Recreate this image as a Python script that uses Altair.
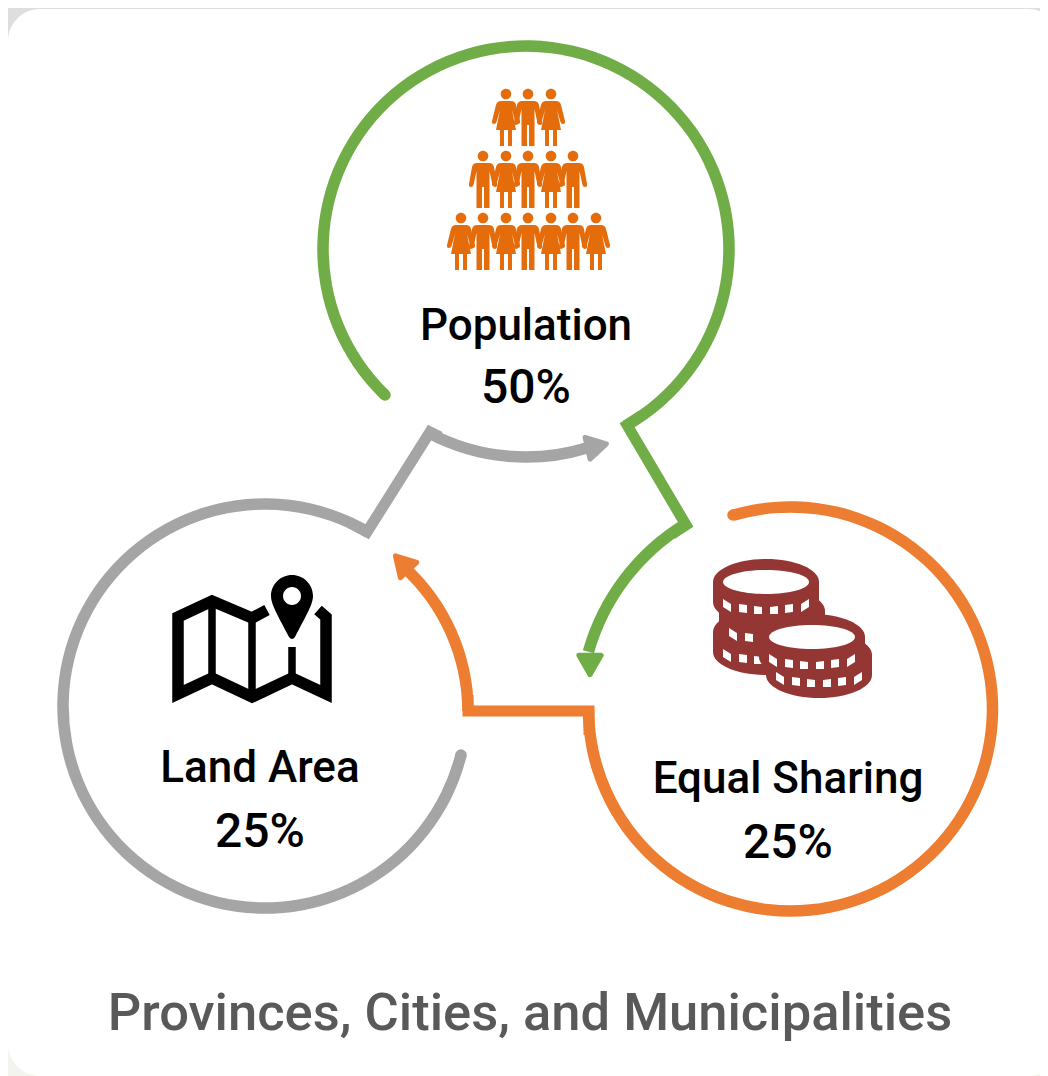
import altair as alt
import pandas as pd

GREEN, ORANGE, GRAY = "#70AD47", "#ED7D31", "#A5A5A5"
PEOPLE = "#E46C0A"
COIN = "#943634"
TITLE = "#595959"

# Arcs: the three large rings, then the three curved arrow shafts.
# Centre, radius, start/end bearing (radians, clockwise from top)
arc_x = [526, 790.5, 265, 800, 526, 272]
arc_y = [249, 709, 706, 712, 249, 712]
arc_r = [203, 202, 202, 220, 208, 196]
arc_start = [-2.374, -0.288, 1.815, 4.99, 2.845, 0.74]
arc_end = [2.627, 4.71, 6.821, 5.735, 3.627, 1.565]
arc_color = [GREEN, ORANGE, GRAY, GREEN, GRAY, ORANGE]

# Rounded free ends of the rings
cap_x = [385, 733, 461]
cap_y = [395, 515, 755]
cap_color = [GREEN, ORANGE, GRAY]

# Straight connectors with their sharp corners
green_x = [642, 627, 686, 672]
green_y = [415, 425, 525, 534]
gray_x = [350, 367, 430, 440]
gray_y = [523, 532, 432, 437]
orange_x = [589, 589, 468, 468]
orange_y = [735, 711, 711, 695]

# Arrow heads
arrow_x = [590, 597, 402]
arrow_y = [665, 446, 563]
arrow_angle = [180, 77, 317]
arrow_color = [GREEN, GRAY, ORANGE]

# People pictogram: position of each head and kind
person_x = [506, 528, 551,
            483, 506, 528, 551, 573,
            461, 483, 506, 528, 551, 573, 596]
person_y = [94, 94, 94,
            156, 156, 156, 156, 156,
            218, 218, 218, 218, 218, 218, 218]
person_kind = ["w", "m", "w",
               "m", "w", "m", "w", "m",
               "w", "m", "w", "m", "w", "m", "w"]

HEAD = "M5.3,0 A5.3,5.3 0 1 1 -5.3,0 A5.3,5.3 0 1 1 5.3,0 Z "
MAN = HEAD + ("M-6,7 L6,7 Q10,7 11,11 L14,28 Q14.5,31 12,31 Q10,31 9.5,29 L6.5,15 L6.5,52 L1,52 L1,31 "
              "L-1,31 L-1,52 L-6.5,52 L-6.5,15 L-9.5,29 Q-10,31 -12,31 Q-14.5,31 -14,28 L-11,11 Q-10,7 -6,7 Z")
WOMAN = HEAD + ("M-5,7 L5,7 Q9,7 10,11 L14,27 Q14.5,30 12,30 Q10,30 9.5,28 L6,16 L10,36 L6,36 L6,52 L2,52 L2,36 "
                "L-2,36 L-2,52 L-6,52 L-6,36 L-10,36 L-6,16 L-9.5,28 Q-10,30 -12,30 Q-14.5,30 -14,27 L-10,11 Q-9,7 -5,7 Z")

# Coins
COIN_BODY = "M-53,0 A53,23 0 0 1 53,0 L53,20 A53,23 0 0 1 -53,20 Z"
COIN_FACE = "M-43,0 A43,12 0 1 1 43,0 A43,12 0 1 1 -43,0 Z"
COIN_WIN = ("M-43,17 L-35,22 L-35,30 L-43,25 Z M-27,22 L-19,23 L-19,31 L-27,30 Z M-12,24 L-4,25 L-4,32 L-12,32 Z "
            "M4,25 L12,24 L12,32 L4,32 Z M19,23 L27,22 L27,30 L19,31 Z M35,22 L43,17 L43,25 L35,30 Z")
coin_x = [766, 772, 766, 766, 772, 766, 766, 819, 812, 819, 812, 812]
coin_y = [632, 611, 582, 632, 611, 582, 582, 655, 637, 655, 637, 637]
coin_part = ["body", "body", "body", "win", "win", "win", "face", "body", "body", "win", "win", "face"]

# Map icon
map_x = [252]
map_y = [650]
MAP_OUT = ("M15,-40 L0,-32 L-40,-49 L-74,-33 L-74,44 L-40,28 L0,47 L40,28 L74,44 L74,-33 L66,-40")
MAP_FOLD = "M-40,-49 L-40,28 M0,-32 L0,47 M40,-3 L40,28"
pin_x = [292]
pin_y = [596]
PIN = "M-21,0 A21,21 0 1 1 21,0 C21,8 15,18 3,41 Q0,45 -3,41 C-15,18 -21,8 -21,0 Z"
PIN_HOLE = "M9,0 A9,9 0 1 1 -9,0 A9,9 0 1 1 9,0 Z"

# Text
name_text = ["Population", "Equal Sharing", "Land Area"]
name_x = [526, 788, 260]
name_y = [340, 793, 782]
share_text = ["50%", "25%", "25%"]
share_x = [526, 788, 260]
share_y = [403, 858, 847]
title_text = ["Provinces, Cities, and Municipalities"]
title_x = [530]
title_y = [1030]

FONT = "Roboto"

xs = alt.Scale(domain=[8, 1040], nice=False, zero=False)
ys = alt.Scale(domain=[1076, 8], nice=False, zero=False)
X = alt.X("x:Q", scale=xs, axis=None)
Y = alt.Y("y:Q", scale=ys, axis=None)
X2 = alt.X2("x2:Q")
Y2 = alt.Y2("y2:Q")
C_NONE = alt.Color("c:N", scale=None, legend=None)


def rect(x, x2, y, y2, colour, radius=0):
    d = pd.DataFrame({"x": [x], "x2": [x2], "y": [y], "y2": [y2]})
    return alt.Chart(d).mark_rect(color=colour, cornerRadius=radius).encode(x=X, x2=X2, y=Y, y2=Y2)


def path(xv, yv, colour):
    d = pd.DataFrame({"x": xv, "y": yv, "o": list(range(len(xv)))})
    return alt.Chart(d).mark_line(
        color=colour, strokeWidth=11, strokeJoin="miter", strokeMiterLimit=10, strokeCap="butt"
    ).encode(x=X, y=Y, order="o:Q")


def glyph(xv, yv, shape, colour):
    d = pd.DataFrame({"x": xv, "y": yv})
    return alt.Chart(d).mark_point(
        shape=shape, size=4, filled=True, fill=colour, strokeWidth=0, opacity=1
    ).encode(x=X, y=Y)


def outline(xv, yv, shape, colour, width):
    d = pd.DataFrame({"x": xv, "y": yv})
    return alt.Chart(d).mark_point(
        shape=shape, size=4, filled=False, stroke=colour, strokeWidth=width,
        strokeJoin="miter", strokeMiterLimit=10, opacity=1
    ).encode(x=X, y=Y)


def words(xv, yv, tv, size, colour):
    d = pd.DataFrame({"x": xv, "y": yv, "t": tv})
    return alt.Chart(d).mark_text(
        font=FONT, fontSize=size, fontWeight=500, color=colour,
        align="center", baseline="alphabetic"
    ).encode(x=X, y=Y, text="t:N")


backdrop = [
    rect(8, 1040, 8, 1076, "#F4F4EE"),
    rect(8, 1040, 8, 200, "#DEDEDE"),
    rect(8, 1060, 9, 1076, "#FFFFFF", 32),
]

arcs = alt.Chart(pd.DataFrame({
    "x": arc_x, "y": arc_y, "s": arc_start, "e": arc_end, "c": arc_color,
    "r0": [v - 5.75 for v in arc_r], "r1": [v + 5.75 for v in arc_r],
})).mark_arc().encode(
    x=X, y=Y,
    theta=alt.Theta("s:Q", scale=None, stack=None),
    theta2=alt.Theta2("e:Q"),
    radius=alt.Radius("r1:Q", scale=None),
    radius2=alt.Radius2("r0:Q"),
    color=C_NONE,
)

caps = alt.Chart(pd.DataFrame({"x": cap_x, "y": cap_y, "c": cap_color})).mark_point(
    shape="circle", size=132, filled=True, strokeWidth=0, opacity=1
).encode(x=X, y=Y, color=C_NONE)

arrows = alt.Chart(pd.DataFrame({"x": arrow_x, "y": arrow_y, "a": arrow_angle, "c": arrow_color})).mark_point(
    shape="triangle-up", size=500, filled=True, strokeWidth=5, strokeJoin="round", opacity=1
).encode(
    x=X, y=Y,
    angle=alt.Angle("a:Q", scale=None),
    color=C_NONE,
    stroke=alt.Stroke("c:N", scale=None, legend=None),
)

men = [(a, b) for a, b, k in zip(person_x, person_y, person_kind) if k == "m"]
women = [(a, b) for a, b, k in zip(person_x, person_y, person_kind) if k == "w"]
people = [
    glyph([p[0] for p in men], [p[1] for p in men], MAN, PEOPLE),
    glyph([p[0] for p in women], [p[1] for p in women], WOMAN, PEOPLE),
]

COIN_SHAPES = {"body": (COIN_BODY, COIN), "win": (COIN_WIN, "#FFFFFF"), "face": (COIN_FACE, "#FFFFFF")}
coins = [
    glyph([a], [b], COIN_SHAPES[k][0], COIN_SHAPES[k][1])
    for a, b, k in zip(coin_x, coin_y, coin_part)
]

map_icon = [
    outline(map_x, map_y, MAP_OUT, "#000000", 11.5),
    outline(map_x, map_y, MAP_FOLD, "#000000", 7.5),
    glyph(pin_x, pin_y, PIN, "#000000"),
    glyph(pin_x, pin_y, PIN_HOLE, "#FFFFFF"),
]

chart = alt.layer(
    *backdrop,
    arcs,
    caps,
    path(green_x, green_y, GREEN),
    path(gray_x, gray_y, GRAY),
    path(orange_x, orange_y, ORANGE),
    arrows,
    *people,
    *coins,
    *map_icon,
    words(name_x, name_y, name_text, 44, "#000000"),
    words(share_x, share_y, share_text, 48, "#000000"),
    words(title_x, title_y, title_text, 52.5, TITLE),
).properties(
    width=1032, height=1068, padding=0, background="#FFFFFF",
    autosize=alt.AutoSizeParams(type="none"),
).configure_view(stroke=None)

chart.save("out.html", embed_options={"renderer": "svg", "actions": False})
